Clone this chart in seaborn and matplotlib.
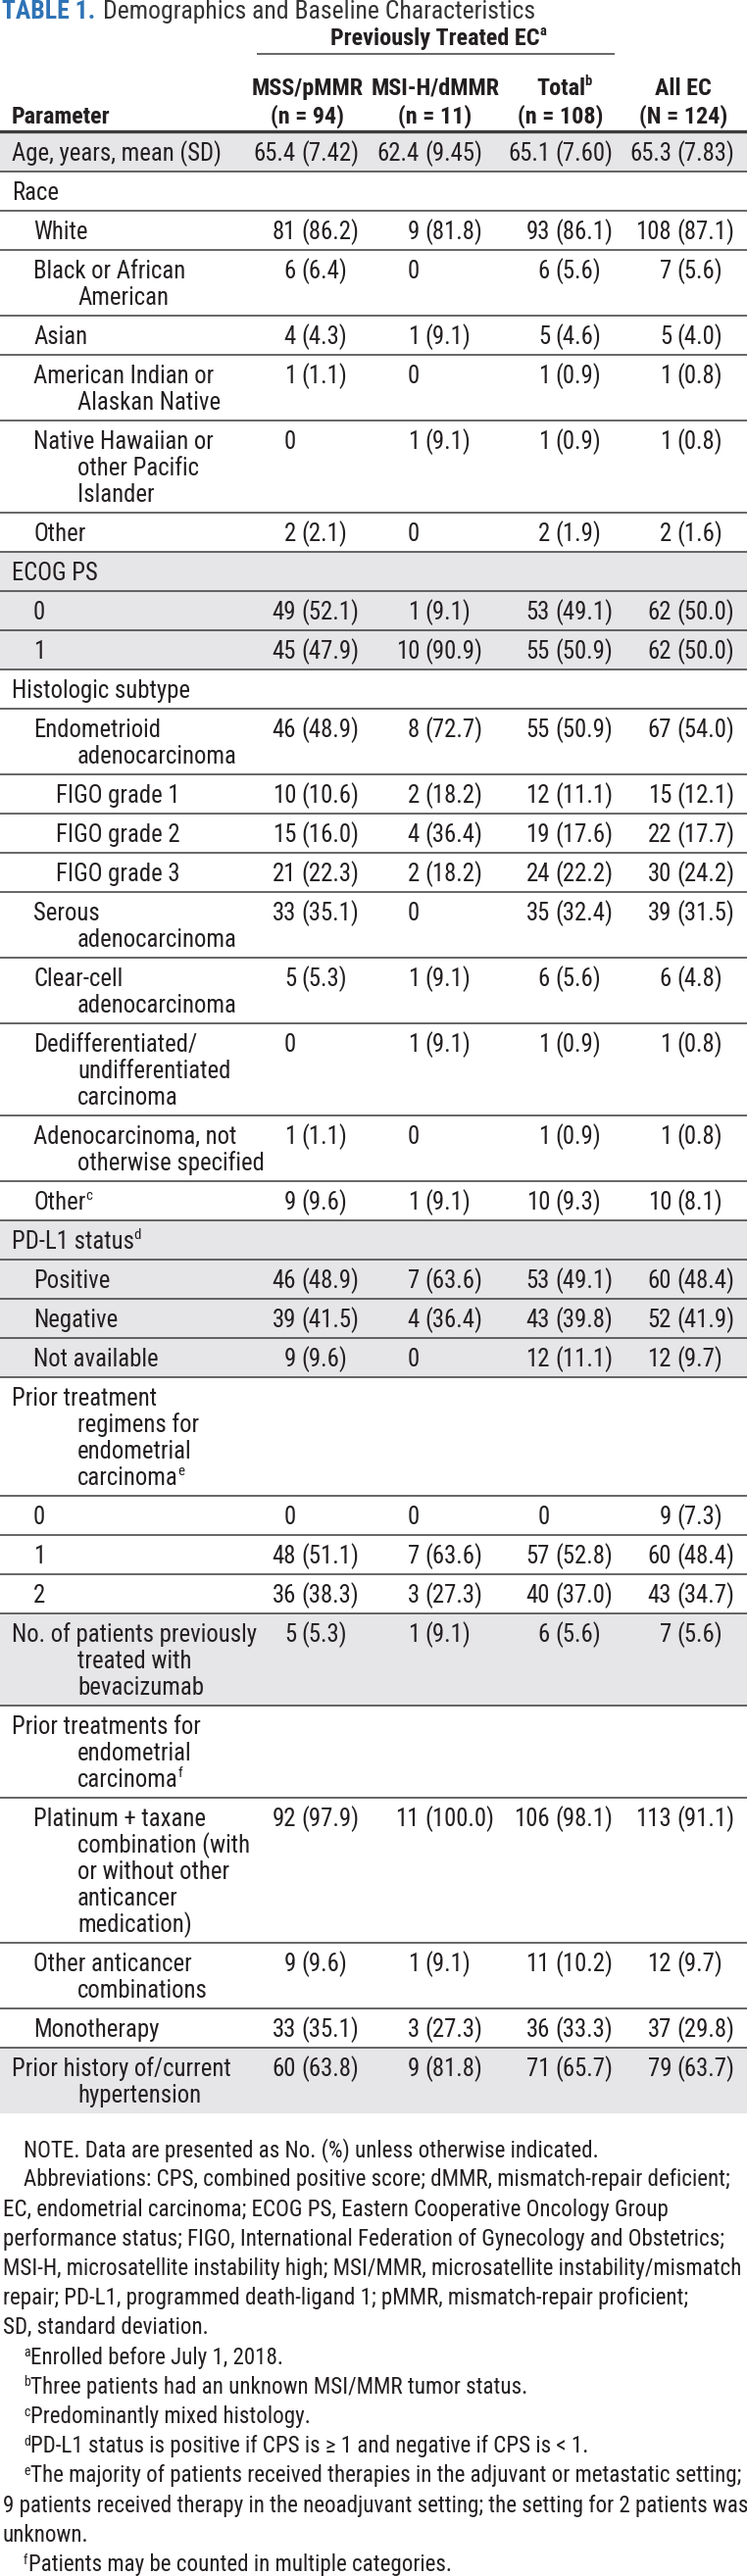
import matplotlib
matplotlib.use("Agg")
import matplotlib.pyplot as plt
import seaborn as sns
from matplotlib import font_manager as fm

# ---- table content ----
title_tag = "TABLE 1."
title_text = "Demographics and Baseline Characteristics"
group_header = "Previously Treated EC"
col_names = ["MSS/pMMR", "MSI-H/dMMR", "Total", "All EC"]
col_notes = ["", "", "b", ""]
col_ns = ["(n = 94)", "(n = 11)", "(n = 108)", "(N = 124)"]

parameters = [
    ["Age, years, mean (SD)"],
    ["Race"],
    ["White"],
    ["Black or African", "American"],
    ["Asian"],
    ["American Indian or", "Alaskan Native"],
    ["Native Hawaiian or", "other Pacific", "Islander"],
    ["Other"],
    ["ECOG PS"],
    ["0"],
    ["1"],
    ["Histologic subtype"],
    ["Endometrioid", "adenocarcinoma"],
    ["FIGO grade 1"],
    ["FIGO grade 2"],
    ["FIGO grade 3"],
    ["Serous", "adenocarcinoma"],
    ["Clear-cell", "adenocarcinoma"],
    ["Dedifferentiated/", "undifferentiated", "carcinoma"],
    ["Adenocarcinoma, not", "otherwise specified"],
    ["Other"],
    ["PD-L1 status"],
    ["Positive"],
    ["Negative"],
    ["Not available"],
    ["Prior treatment", "regimens for", "endometrial", "carcinoma"],
    ["0"],
    ["1"],
    ["2"],
    ["No. of patients previously", "treated with", "bevacizumab"],
    ["Prior treatments for", "endometrial", "carcinoma"],
    ["Platinum + taxane", "combination (with", "or without other", "anticancer", "medication)"],
    ["Other anticancer", "combinations"],
    ["Monotherapy"],
    ["Prior history of/current", "hypertension"],
]
param_notes = ["", "", "", "", "", "", "", "", "", "", "", "", "", "", "", "", "", "", "", "",
               "c", "d", "", "", "", "e", "", "", "", "", "f", "", "", "", ""]

mss_pmmr = ["65.4 (7.42)", "", "81 (86.2)", "6 (6.4)", "4 (4.3)", "1 (1.1)", "0", "2 (2.1)",
            "", "49 (52.1)", "45 (47.9)", "", "46 (48.9)", "10 (10.6)", "15 (16.0)", "21 (22.3)",
            "33 (35.1)", "5 (5.3)", "0", "1 (1.1)", "9 (9.6)", "", "46 (48.9)", "39 (41.5)",
            "9 (9.6)", "", "0", "48 (51.1)", "36 (38.3)", "5 (5.3)", "", "92 (97.9)", "9 (9.6)",
            "33 (35.1)", "60 (63.8)"]
msi_h_dmmr = ["62.4 (9.45)", "", "9 (81.8)", "0", "1 (9.1)", "0", "1 (9.1)", "0",
              "", "1 (9.1)", "10 (90.9)", "", "8 (72.7)", "2 (18.2)", "4 (36.4)", "2 (18.2)",
              "0", "1 (9.1)", "1 (9.1)", "0", "1 (9.1)", "", "7 (63.6)", "4 (36.4)",
              "0", "", "0", "7 (63.6)", "3 (27.3)", "1 (9.1)", "", "11 (100.0)", "1 (9.1)",
              "3 (27.3)", "9 (81.8)"]
total = ["65.1 (7.60)", "", "93 (86.1)", "6 (5.6)", "5 (4.6)", "1 (0.9)", "1 (0.9)", "2 (1.9)",
         "", "53 (49.1)", "55 (50.9)", "", "55 (50.9)", "12 (11.1)", "19 (17.6)", "24 (22.2)",
         "35 (32.4)", "6 (5.6)", "1 (0.9)", "1 (0.9)", "10 (9.3)", "", "53 (49.1)", "43 (39.8)",
         "12 (11.1)", "", "0", "57 (52.8)", "40 (37.0)", "6 (5.6)", "", "106 (98.1)", "11 (10.2)",
         "36 (33.3)", "71 (65.7)"]
all_ec = ["65.3 (7.83)", "", "108 (87.1)", "7 (5.6)", "5 (4.0)", "1 (0.8)", "1 (0.8)", "2 (1.6)",
          "", "62 (50.0)", "62 (50.0)", "", "67 (54.0)", "15 (12.1)", "22 (17.7)", "30 (24.2)",
          "39 (31.5)", "6 (4.8)", "1 (0.8)", "1 (0.8)", "10 (8.1)", "", "60 (48.4)", "52 (41.9)",
          "12 (9.7)", "", "9 (7.3)", "60 (48.4)", "43 (34.7)", "7 (5.6)", "", "113 (91.1)", "12 (9.7)",
          "37 (29.8)", "79 (63.7)"]

footnote_marks = ["", "", "", "", "", "", "", "a", "b", "c", "d", "e", "", "", "f"]
footnote_lines = [
    "NOTE. Data are presented as No. (%) unless otherwise indicated.",
    "Abbreviations: CPS, combined positive score; dMMR, mismatch-repair deficient;",
    "EC, endometrial carcinoma; ECOG PS, Eastern Cooperative Oncology Group",
    "performance status; FIGO, International Federation of Gynecology and Obstetrics;",
    "MSI-H, microsatellite instability high; MSI/MMR, microsatellite instability/mismatch",
    "repair; PD-L1, programmed death-ligand 1; pMMR, mismatch-repair proficient;",
    "SD, standard deviation.",
    "Enrolled before July 1, 2018.",
    "Three patients had an unknown MSI/MMR tumor status.",
    "Predominantly mixed histology.",
    "PD-L1 status is positive if CPS is \u2265 1 and negative if CPS is < 1.",
    "The majority of patients received therapies in the adjuvant or metastatic setting;",
    "9 patients received therapy in the neoadjuvant setting; the setting for 2 patients was",
    "unknown.",
    "Patients may be counted in multiple categories.",
]
footnote_indented = [True, True, False, False, False, False, False, True, True, True, True, True,
                     False, False, True]

# ---- styling / layout ----
levels = [0, 0, 1, 1, 1, 1, 1, 1, 0, 1, 1, 0, 1, 2, 2, 2, 1, 1, 1, 1, 1,
          0, 1, 1, 1, 0, 1, 1, 1, 0, 0, 1, 1, 1, 0]
shaded = [1, 0, 0, 0, 0, 0, 0, 0, 1, 1, 1, 0, 0, 0, 0, 0, 0, 0, 0, 0, 0,
          1, 1, 1, 1, 0, 0, 0, 0, 1, 0, 0, 0, 0, 1]

INK = "#231F20"
SHADE = "#E6E5E7"
RULE = "#3C3C3C"
BLUE = "#2F73B6"

sns.set_theme(style="white")
names = {f.name for f in fm.fontManager.ttflist}
family = next(n for n in ["Liberation Sans Narrow", "Roboto Condensed", "Open Sans Condensed",
                          "DejaVu Sans"] if n in names or n == "DejaVu Sans")
plt.rcParams["font.family"] = [family, "DejaVu Sans"]
plt.rcParams["font.stretch"] = "condensed"

W, H = 762, 2628
fig = plt.figure(figsize=(W / 100, H / 100), dpi=100)
ax = fig.add_axes([0, 0, 1, 1])
ax.set_xlim(0, W)
ax.set_ylim(H, 0)
ax.axis("off")
renderer = fig.canvas.get_renderer()


def width(s, size, weight="normal"):
    t = ax.text(0, 0, s, fontsize=size, fontweight=weight)
    w = t.get_window_extent(renderer).width
    t.remove()
    return w


# fit the footnote font so the longest line spans the page like the original
fs_note = 16 * 752 / width(footnote_lines[4], 16)
fs_note = min(max(fs_note, 10), 19)
fs = fs_note * 1.08          # table body a touch larger
fs_head = fs_note * 1.05
fs_title = fs_note * 1.12


def cap_of(size):
    return 0.72 * size * 100 / 72


def label(x, yc, s, size=None, weight="normal", color=INK, ha="left"):
    size = size or fs
    return ax.text(x, yc + cap_of(size) / 2, s, fontsize=size, fontweight=weight, color=color,
                   ha=ha, va="baseline")


def sup_after(t, yc, s, weight="normal", size=None):
    size = size or fs
    x = t.get_window_extent(renderer).x1 - 0.5
    ax.text(x, yc - cap_of(size) * 0.05, s, fontsize=size * 0.6, fontweight=weight, color=INK,
            va="baseline")


# title
t = label(2, 10, title_tag, size=fs_title, weight="bold", color=BLUE)
x_t = t.get_window_extent(renderer).x1 + 8
label(x_t, 10, title_text, size=fs_title, color="#333333")

# header
hdr = label(444, 37, group_header, size=fs_head, weight="bold", ha="center")
sup_after(hdr, 37, "a", weight="bold", size=fs_head)
ax.hlines(55, 262, 627, color=RULE, lw=1.1)
col_centers = [314, 444, 572, 697]
for cx, nm, note, n in zip(col_centers, col_names, col_notes, col_ns):
    t = label(cx, 88, nm, size=fs_head, weight="bold", ha="center")
    if note:
        sup_after(t, 88, note, weight="bold", size=fs_head)
    label(cx, 117, n, size=fs_head, weight="bold", ha="center")
label(12, 117, "Parameter", size=fs_head, weight="bold")
ax.axhline(134, color=RULE, lw=2.4)

# body rows
level_x = [12, 34, 57]
anchors = [302, 428, 561, 685]
gap = width("0 0", fs) - 2 * width("0", fs)
columns = [mss_pmmr, msi_h_dmmr, total, all_ec]
y = 135
for i, lines in enumerate(parameters):
    h = 40 + 27 * (len(lines) - 1)
    if shaded[i]:
        ax.axhspan(y, y + h, color=SHADE, lw=0, zorder=0)
    for j, ln in enumerate(lines):
        t = label(level_x[levels[i]] if j == 0 else 79, y + 20 + 27 * j, ln)
    if param_notes[i]:
        sup_after(t, y + 20 + 27 * (len(lines) - 1), param_notes[i])
    for a, col in zip(anchors, columns):
        cnt, _, rest = col[i].partition(" ")
        if cnt:
            label(a, y + 20, cnt, ha="right")
        if rest:
            label(a + gap, y + 20, rest)
    if i < len(parameters) - 1:
        ax.axhline(y + h, color=RULE, lw=1.1)
    y += h

# footnotes
fy = 2192
cap_n = cap_of(fs_note)
for mark, line, ind in zip(footnote_marks, footnote_lines, footnote_indented):
    x = 24 if ind else 3
    if mark:
        m = ax.text(x, fy + cap_n / 2 - cap_n * 0.45, mark, fontsize=fs_note * 0.6, color=INK,
                    va="baseline")
        x = m.get_window_extent(renderer).x1 + 0.5
    label(x, fy, line, size=fs_note)
    fy += 30.2

fig.savefig("out.png", dpi=100)
